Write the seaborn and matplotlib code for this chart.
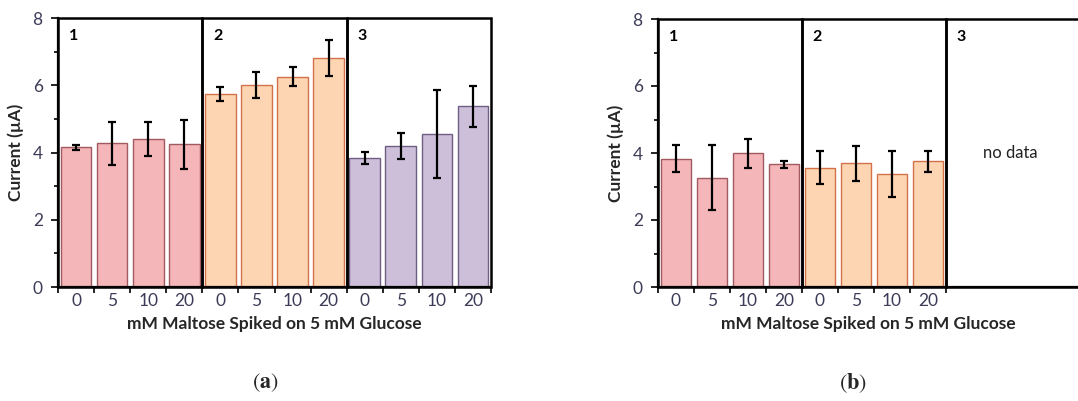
import numpy as np
import pandas as pd
import matplotlib
matplotlib.use("Agg")
import matplotlib.pyplot as plt
import seaborn as sns
from matplotlib.patches import Rectangle

sns.set_theme(style="white")
plt.rcParams['font.family'] = ['Lato', 'DejaVu Sans']
plt.rcParams['mathtext.fontset'] = 'stix'

# ---------------- data ----------------
maltose_levels = ["0", "5", "10", "20"]
groups_a = ["1", "2", "3"]
groups_b = ["1", "2"]

a_g1_mean = [4.15, 4.27, 4.41, 4.24]
a_g1_err = [0.07, 0.63, 0.50, 0.73]
a_g2_mean = [5.74, 6.01, 6.26, 6.81]
a_g2_err = [0.22, 0.39, 0.28, 0.53]
a_g3_mean = [3.84, 4.19, 4.55, 5.37]
a_g3_err = [0.18, 0.39, 1.30, 0.62]

b_g1_mean = [3.83, 3.26, 3.99, 3.66]
b_g1_err = [0.41, 0.97, 0.44, 0.10]
b_g2_mean = [3.56, 3.69, 3.37, 3.75]
b_g2_err = [0.50, 0.53, 0.69, 0.31]

fill_colors = {"1": "#F4B6B8", "2": "#FDD5B2", "3": "#CDBFDA"}
edge_colors = {"1": "#A05A60", "2": "#D2714A", "3": "#6E5E82"}
tick_color = "#3C3C58"


def make_df(groups, means, errs):
    rows = []
    for g, m, e in zip(groups, means, errs):
        for lvl, mv, ev in zip(maltose_levels, m, e):
            rows.append({"key": f"{g}-{lvl}", "group": g, "level": lvl,
                         "current": mv, "err": ev})
    return pd.DataFrame(rows)


df_a = make_df(groups_a, [a_g1_mean, a_g2_mean, a_g3_mean],
               [a_g1_err, a_g2_err, a_g3_err])
df_b = make_df(groups_b, [b_g1_mean, b_g2_mean],
               [b_g1_err, b_g2_err])

fig = plt.figure(figsize=(10.78, 4.01), dpi=100)
ax_a = fig.add_axes([58/1078, 114/401, 433/1078, 269/401])
ax_b = fig.add_axes([658/1078, 114/401, 420/1078, 268/401])


def draw_panel(ax, df, n_slots_total, xmax, no_data_groups):
    order = list(df["key"])
    sns.barplot(data=df, x="key", y="current", hue="group", order=order,
                palette=fill_colors, dodge=False, width=0.85, saturation=1,
                errorbar=None, legend=False, ax=ax, linewidth=1.0)
    for patch, g in zip(ax.patches, df["group"]):
        patch.set_edgecolor(edge_colors[g])
        patch.set_linewidth(1.0)
    pos = np.arange(len(df))
    ax.errorbar(pos, df["current"], yerr=df["err"], fmt="none",
                ecolor="black", elinewidth=1.6, capsize=3, capthick=1.6,
                zorder=5)
    ax.set_ylim(0, 8)
    ax.set_xlim(-0.5, xmax)
    n_groups = n_slots_total // 4
    for gi in range(n_groups):
        ax.add_patch(Rectangle((gi*4 - 0.5, 0), 4, 8, fill=False,
                               edgecolor="black", linewidth=1.8,
                               zorder=6, clip_on=False))
        ax.text(gi*4 - 0.5 + 0.3, 7.45, str(gi + 1), fontsize=11.5,
                fontweight="bold", color="black", ha="left", va="center")
    for gi in no_data_groups:
        ax.text(gi*4 + 1.5 - 0.2, 4.0, "no data", fontsize=12,
                color="#222222", ha="center", va="center")
    for s in ["top", "right"]:
        ax.spines[s].set_visible(False)
    for s in ["left", "bottom"]:
        ax.spines[s].set_color("black")
        ax.spines[s].set_linewidth(1.6)
    ax.set_xticks(pos)
    ax.set_xticklabels(list(df["level"]))
    ax.tick_params(axis="x", which="major", length=0, pad=4,
                   labelsize=12.5, labelcolor=tick_color)
    ax.set_xticks(np.arange(-0.5, len(df) + 0.5, 1.0), minor=True)
    ax.tick_params(axis="x", which="minor", length=4, width=1.2,
                   direction="out", color="black", bottom=True)
    ax.set_yticks([0, 2, 4, 6, 8])
    ax.set_yticks([1, 3, 5, 7], minor=True)
    ax.tick_params(axis="y", which="major", length=5, width=1.2,
                   direction="out", color="black", left=True,
                   labelsize=12.5, labelcolor=tick_color, pad=6)
    ax.tick_params(axis="y", which="minor", length=3, width=1.2,
                   direction="out", color="black", left=True)
    ax.set_xlabel("mM Maltose Spiked on 5 mM Glucose", fontsize=12.5,
                  fontweight="bold", labelpad=5)
    ax.set_ylabel("Current (µA)", fontsize=12.5, fontweight="bold",
                  labelpad=6)
    ax.grid(False)


draw_panel(ax_a, df_a, 12, 11.5, [])
draw_panel(ax_b, df_b, 12, 11.17, [2])

fig.text(265/1078, 1 - 383/401, r"$\mathrm{(}\mathbf{a}\mathrm{)}$",
         fontsize=16, ha="center", va="center")
fig.text(853/1078, 1 - 383/401, r"$\mathrm{(}\mathbf{b}\mathrm{)}$",
         fontsize=16, ha="center", va="center")

fig.savefig("out.png", dpi=100, facecolor="white")
